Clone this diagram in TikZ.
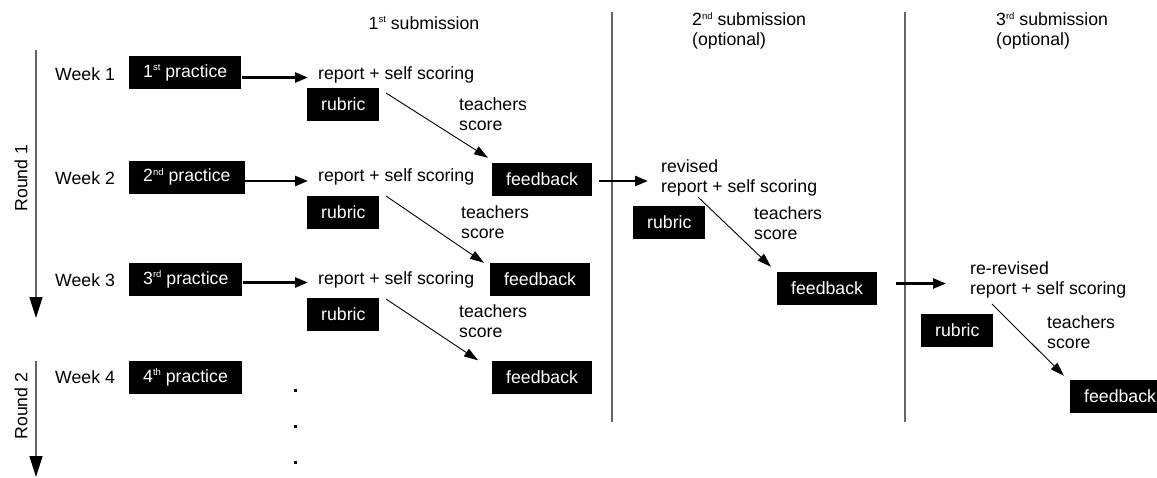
\documentclass[tikz,border=0pt]{standalone}
\usepackage{fontspec}
\setmainfont{Liberation Sans}
\usepackage{tikz}
\usetikzlibrary{arrows.meta, positioning, calc}

\newcommand{\ordsup}[1]{\raisebox{6.4pt}{\fontsize{9.5}{9.5}\selectfont #1}}

\begin{document}
\begin{tikzpicture}[
        x=1pt, y=-1pt,
        font=\fontsize{17.7}{20}\selectfont,
        blackbox/.style={fill=black, text=white, inner xsep=14pt, inner ysep=0pt, minimum height=33pt, anchor=west},
        txt/.style={inner sep=0pt, anchor=west, align=left},
        flow/.style={line width=2.5pt, -{Triangle[length=13pt, width=10pt]}},
        scorearrow/.style={line width=0.9pt, -{Triangle[length=14pt, width=9pt]}},
        roundarrow/.style={line width=1.5pt, draw=black!60, -{Triangle[length=21pt, width=13pt, color=black]}},
        divider/.style={line width=1.3pt, draw=black!60}
    ]
        \useasboundingbox (0,0) rectangle (1157,477);

        % column heads
        \node (sub1) at (424,23) {1\ordsup{st} submission};
        \node[txt] (sub2) at (692,31) {2\ordsup{nd} submission\\(optional)};
        \node[txt] (sub3) at (996,31) {3\ordsup{rd} submission\\(optional)};

        \draw[divider] (612,12) -- (612,422);
        \draw[divider] (905,12) -- (905,422);

        % rounds
        \coordinate (r1_top) at (36,50);
        \coordinate (r1_end) at (36,318);
        \coordinate (r2_top) at (36,361);
        \coordinate (r2_end) at (36,477);
        \draw[roundarrow] (r1_top) -- (r1_end);
        \draw[roundarrow] (r2_top) -- (r2_end);
        \node[rotate=90] (round1) at (21,178) {Round 1};
        \node[rotate=90] (round2) at (21,406) {Round 2};

        % weeks and practices
        \node[txt] (week1) at (55,74) {Week 1};
        \node[txt] (week2) at (55,178) {Week 2};
        \node[txt] (week3) at (55,280) {Week 3};
        \node[txt] (week4) at (55,377) {Week 4};

        \node[blackbox] (prac1) at (129,72.5) {1\ordsup{st} practice};
        \node[blackbox] (prac2) at (129,177) {2\ordsup{nd} practice};
        \node[blackbox] (prac3) at (129,279.5) {3\ordsup{rd} practice};
        \node[blackbox] (prac4) at (129,377.5) {4\ordsup{th} practice};

        % 1st submission
        \node[txt] (rep1) at (318,75) {report + self scoring};
        \node[txt] (rep2) at (318,177) {report + self scoring};
        \node[txt] (rep3) at (318,280) {report + self scoring};

        \node[blackbox] (rub1) at (307,104) {rubric};
        \node[blackbox] (rub2) at (307,212) {rubric};
        \node[blackbox] (rub3) at (307,314.5) {rubric};

        \node[txt] (teach1) at (459,114) {teachers\\score};
        \node[txt] (teach2) at (461,222.5) {teachers\\score};
        \node[txt] (teach3) at (459,321) {teachers\\score};

        \node[blackbox] (feed1) at (492,179.5) {feedback};
        \node[blackbox] (feed2) at (490,279.5) {feedback};
        \node[blackbox] (feed3) at (492,377) {feedback};

        \draw[flow, shorten >=10pt] ([yshift=-5pt]prac1.east) -- ([yshift=-5pt]prac1.east -| rep1.west);
        \draw[flow, shorten >=10pt] ([yshift=-4pt]prac2.east) -- ([yshift=-4pt]prac2.east -| rep2.west);
        \draw[flow, shorten >=10pt] ([yshift=-3pt]prac3.east) -- ([yshift=-3pt]prac3.east -| rep3.west);

        \draw[scorearrow] ([xshift=68pt, yshift=-18pt]rep1.west) -- ([xshift=-4pt, yshift=5pt]feed1.north west);
        \draw[scorearrow] ([xshift=68pt, yshift=-19pt]rep2.west) -- ([xshift=-6pt]feed2.north west);
        \draw[scorearrow] ([xshift=68pt, yshift=-19pt]rep3.west) -- ([xshift=-14pt]feed3.north west);

        % dots
        \foreach \y in {390, 426, 462}
            \fill (293.5,\y-1.5) rectangle (297,\y+1.5);

        % 2nd submission
        \node[txt] (rev) at (661,177.5) {revised\\report + self scoring};
        \node[blackbox] (rubB) at (633,222.5) {rubric};
        \node[txt] (teachB) at (754,223.5) {teachers\\score};
        \node[blackbox] (feedB) at (777,288.5) {feedback};

        \draw[flow, shorten <=7pt, shorten >=13pt] ([yshift=-1.5pt]feed1.east) -- ([yshift=-1.5pt]feed1.east -| rev.west);
        \draw[scorearrow] ([xshift=37pt, yshift=-19.5pt]rev.west) -- ([xshift=-6pt, yshift=5pt]feedB.north west);

        % 3rd submission
        \node[txt] (rerev) at (970,280) {re-revised\\report + self scoring};
        \node[blackbox] (rubC) at (921,330.5) {rubric};
        \node[txt] (teachC) at (1047,332) {teachers\\score};
        \node[blackbox] (feedC) at (1070,396.5) {feedback};

        \draw[flow, shorten <=19pt, shorten >=24pt] ([yshift=5pt]feedB.east) -- ([yshift=5pt]feedB.east -| rerev.west);
        \draw[scorearrow] ([xshift=22pt, yshift=-24pt]rerev.west) -- ([xshift=-6pt, yshift=4pt]feedC.north west);

    \end{tikzpicture}
\end{document}
